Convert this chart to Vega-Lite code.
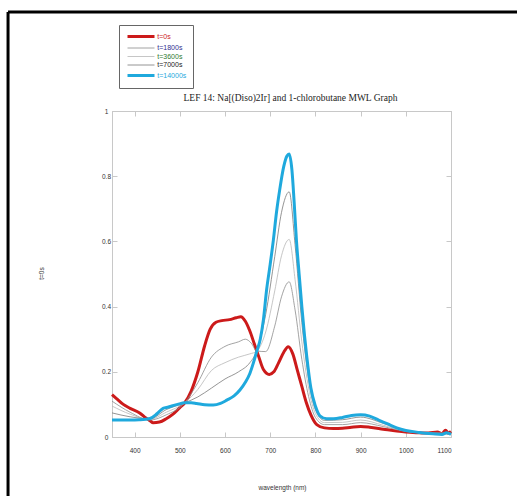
{
  "$schema": "https://vega.github.io/schema/vega-lite/v6.json",
  "autosize": {"type": "none"},
  "padding": {"left": 112, "top": 111, "right": 66, "bottom": 59},
  "width": 339,
  "height": 326,
  "background": "white",
  "title": {"text": "LEF 14: Na[(Diso)2Ir] and 1-chlorobutane MWL Graph", "font": "Liberation Serif", "fontSize": 9.5, "fontWeight": "normal", "color": "#222", "offset": 8, "dx": 9, "dy": 100.5},
  "config": {"view": {"stroke": "#c8c8c8", "strokeWidth": 1}, "axis": {"labelFont": "Liberation Sans", "titleFont": "Liberation Sans", "labelFontSize": 6.5, "titleFontSize": 6.5, "titleFontWeight": "normal", "labelColor": "#333", "titleColor": "#333", "domainColor": "#c8c8c8", "tickColor": "#c8c8c8", "grid": false}},
  "datasets": {
    "spectra": [
      {"t": "t=0s", "nm": 350, "v": 0.130}, {"t": "t=0s", "nm": 360, "v": 0.118}, {"t": "t=0s", "nm": 375, "v": 0.100}, {"t": "t=0s", "nm": 390, "v": 0.088}, {"t": "t=0s", "nm": 412, "v": 0.073}, {"t": "t=0s", "nm": 425, "v": 0.058}, {"t": "t=0s", "nm": 434, "v": 0.050}, {"t": "t=0s", "nm": 441, "v": 0.044}, {"t": "t=0s", "nm": 455, "v": 0.046}, {"t": "t=0s", "nm": 470, "v": 0.056}, {"t": "t=0s", "nm": 485, "v": 0.070}, {"t": "t=0s", "nm": 500, "v": 0.090}, {"t": "t=0s", "nm": 511, "v": 0.105}, {"t": "t=0s", "nm": 525, "v": 0.140}, {"t": "t=0s", "nm": 540, "v": 0.200}, {"t": "t=0s", "nm": 555, "v": 0.280}, {"t": "t=0s", "nm": 567, "v": 0.330}, {"t": "t=0s", "nm": 580, "v": 0.352}, {"t": "t=0s", "nm": 593, "v": 0.357}, {"t": "t=0s", "nm": 610, "v": 0.360}, {"t": "t=0s", "nm": 625, "v": 0.366}, {"t": "t=0s", "nm": 635, "v": 0.369}, {"t": "t=0s", "nm": 645, "v": 0.355}, {"t": "t=0s", "nm": 655, "v": 0.325}, {"t": "t=0s", "nm": 665, "v": 0.285}, {"t": "t=0s", "nm": 675, "v": 0.245}, {"t": "t=0s", "nm": 685, "v": 0.207}, {"t": "t=0s", "nm": 698, "v": 0.192}, {"t": "t=0s", "nm": 708, "v": 0.200}, {"t": "t=0s", "nm": 718, "v": 0.226}, {"t": "t=0s", "nm": 730, "v": 0.260}, {"t": "t=0s", "nm": 740, "v": 0.277}, {"t": "t=0s", "nm": 750, "v": 0.255}, {"t": "t=0s", "nm": 760, "v": 0.205}, {"t": "t=0s", "nm": 770, "v": 0.155}, {"t": "t=0s", "nm": 780, "v": 0.105}, {"t": "t=0s", "nm": 790, "v": 0.068}, {"t": "t=0s", "nm": 803, "v": 0.038}, {"t": "t=0s", "nm": 820, "v": 0.028}, {"t": "t=0s", "nm": 840, "v": 0.026}, {"t": "t=0s", "nm": 860, "v": 0.027}, {"t": "t=0s", "nm": 880, "v": 0.030}, {"t": "t=0s", "nm": 900, "v": 0.032}, {"t": "t=0s", "nm": 920, "v": 0.030}, {"t": "t=0s", "nm": 950, "v": 0.024}, {"t": "t=0s", "nm": 980, "v": 0.018}, {"t": "t=0s", "nm": 1000, "v": 0.015}, {"t": "t=0s", "nm": 1030, "v": 0.013}, {"t": "t=0s", "nm": 1050, "v": 0.012}, {"t": "t=0s", "nm": 1070, "v": 0.015}, {"t": "t=0s", "nm": 1080, "v": 0.010}, {"t": "t=0s", "nm": 1088, "v": 0.021}, {"t": "t=0s", "nm": 1094, "v": 0.012}, {"t": "t=0s", "nm": 1100, "v": 0.017},

      {"t": "t=1800s", "nm": 350, "v": 0.110}, {"t": "t=1800s", "nm": 390, "v": 0.076}, {"t": "t=1800s", "nm": 434, "v": 0.052}, {"t": "t=1800s", "nm": 470, "v": 0.068}, {"t": "t=1800s", "nm": 511, "v": 0.105}, {"t": "t=1800s", "nm": 540, "v": 0.167}, {"t": "t=1800s", "nm": 570, "v": 0.245}, {"t": "t=1800s", "nm": 600, "v": 0.278}, {"t": "t=1800s", "nm": 630, "v": 0.292}, {"t": "t=1800s", "nm": 645, "v": 0.300}, {"t": "t=1800s", "nm": 658, "v": 0.288}, {"t": "t=1800s", "nm": 670, "v": 0.264}, {"t": "t=1800s", "nm": 690, "v": 0.262}, {"t": "t=1800s", "nm": 710, "v": 0.340}, {"t": "t=1800s", "nm": 725, "v": 0.430}, {"t": "t=1800s", "nm": 742, "v": 0.476}, {"t": "t=1800s", "nm": 755, "v": 0.390}, {"t": "t=1800s", "nm": 770, "v": 0.238}, {"t": "t=1800s", "nm": 785, "v": 0.124}, {"t": "t=1800s", "nm": 800, "v": 0.060}, {"t": "t=1800s", "nm": 820, "v": 0.038}, {"t": "t=1800s", "nm": 860, "v": 0.038}, {"t": "t=1800s", "nm": 900, "v": 0.044}, {"t": "t=1800s", "nm": 950, "v": 0.032}, {"t": "t=1800s", "nm": 1000, "v": 0.017}, {"t": "t=1800s", "nm": 1050, "v": 0.012}, {"t": "t=1800s", "nm": 1100, "v": 0.012},

      {"t": "t=3600s", "nm": 350, "v": 0.095}, {"t": "t=3600s", "nm": 390, "v": 0.070}, {"t": "t=3600s", "nm": 434, "v": 0.054}, {"t": "t=3600s", "nm": 470, "v": 0.076}, {"t": "t=3600s", "nm": 511, "v": 0.105}, {"t": "t=3600s", "nm": 540, "v": 0.146}, {"t": "t=3600s", "nm": 570, "v": 0.204}, {"t": "t=3600s", "nm": 600, "v": 0.228}, {"t": "t=3600s", "nm": 630, "v": 0.245}, {"t": "t=3600s", "nm": 655, "v": 0.255}, {"t": "t=3600s", "nm": 670, "v": 0.263}, {"t": "t=3600s", "nm": 690, "v": 0.322}, {"t": "t=3600s", "nm": 710, "v": 0.448}, {"t": "t=3600s", "nm": 725, "v": 0.556}, {"t": "t=3600s", "nm": 742, "v": 0.606}, {"t": "t=3600s", "nm": 755, "v": 0.483}, {"t": "t=3600s", "nm": 770, "v": 0.292}, {"t": "t=3600s", "nm": 785, "v": 0.150}, {"t": "t=3600s", "nm": 800, "v": 0.072}, {"t": "t=3600s", "nm": 820, "v": 0.044}, {"t": "t=3600s", "nm": 860, "v": 0.045}, {"t": "t=3600s", "nm": 900, "v": 0.052}, {"t": "t=3600s", "nm": 950, "v": 0.036}, {"t": "t=3600s", "nm": 1000, "v": 0.018}, {"t": "t=3600s", "nm": 1050, "v": 0.012}, {"t": "t=3600s", "nm": 1100, "v": 0.011},

      {"t": "t=7000s", "nm": 350, "v": 0.074}, {"t": "t=7000s", "nm": 390, "v": 0.062}, {"t": "t=7000s", "nm": 434, "v": 0.056}, {"t": "t=7000s", "nm": 470, "v": 0.084}, {"t": "t=7000s", "nm": 511, "v": 0.105}, {"t": "t=7000s", "nm": 540, "v": 0.123}, {"t": "t=7000s", "nm": 570, "v": 0.150}, {"t": "t=7000s", "nm": 600, "v": 0.178}, {"t": "t=7000s", "nm": 630, "v": 0.200}, {"t": "t=7000s", "nm": 655, "v": 0.228}, {"t": "t=7000s", "nm": 670, "v": 0.263}, {"t": "t=7000s", "nm": 690, "v": 0.376}, {"t": "t=7000s", "nm": 710, "v": 0.553}, {"t": "t=7000s", "nm": 725, "v": 0.689}, {"t": "t=7000s", "nm": 742, "v": 0.752}, {"t": "t=7000s", "nm": 755, "v": 0.590}, {"t": "t=7000s", "nm": 770, "v": 0.351}, {"t": "t=7000s", "nm": 785, "v": 0.177}, {"t": "t=7000s", "nm": 800, "v": 0.084}, {"t": "t=7000s", "nm": 820, "v": 0.051}, {"t": "t=7000s", "nm": 860, "v": 0.053}, {"t": "t=7000s", "nm": 900, "v": 0.061}, {"t": "t=7000s", "nm": 950, "v": 0.042}, {"t": "t=7000s", "nm": 1000, "v": 0.019}, {"t": "t=7000s", "nm": 1050, "v": 0.011}, {"t": "t=7000s", "nm": 1100, "v": 0.009},

      {"t": "t=14000s", "nm": 350, "v": 0.052}, {"t": "t=14000s", "nm": 370, "v": 0.052}, {"t": "t=14000s", "nm": 390, "v": 0.052}, {"t": "t=14000s", "nm": 410, "v": 0.053}, {"t": "t=14000s", "nm": 434, "v": 0.057}, {"t": "t=14000s", "nm": 450, "v": 0.072}, {"t": "t=14000s", "nm": 463, "v": 0.088}, {"t": "t=14000s", "nm": 475, "v": 0.092}, {"t": "t=14000s", "nm": 482, "v": 0.095}, {"t": "t=14000s", "nm": 495, "v": 0.100}, {"t": "t=14000s", "nm": 511, "v": 0.105}, {"t": "t=14000s", "nm": 525, "v": 0.105}, {"t": "t=14000s", "nm": 537, "v": 0.103}, {"t": "t=14000s", "nm": 555, "v": 0.099}, {"t": "t=14000s", "nm": 574, "v": 0.098}, {"t": "t=14000s", "nm": 590, "v": 0.103}, {"t": "t=14000s", "nm": 604, "v": 0.113}, {"t": "t=14000s", "nm": 620, "v": 0.126}, {"t": "t=14000s", "nm": 633, "v": 0.144}, {"t": "t=14000s", "nm": 645, "v": 0.168}, {"t": "t=14000s", "nm": 655, "v": 0.195}, {"t": "t=14000s", "nm": 663, "v": 0.228}, {"t": "t=14000s", "nm": 670, "v": 0.262}, {"t": "t=14000s", "nm": 678, "v": 0.300}, {"t": "t=14000s", "nm": 685, "v": 0.360}, {"t": "t=14000s", "nm": 692, "v": 0.451}, {"t": "t=14000s", "nm": 700, "v": 0.530}, {"t": "t=14000s", "nm": 707, "v": 0.604}, {"t": "t=14000s", "nm": 714, "v": 0.690}, {"t": "t=14000s", "nm": 721, "v": 0.758}, {"t": "t=14000s", "nm": 730, "v": 0.830}, {"t": "t=14000s", "nm": 737, "v": 0.862}, {"t": "t=14000s", "nm": 742, "v": 0.868}, {"t": "t=14000s", "nm": 748, "v": 0.820}, {"t": "t=14000s", "nm": 753, "v": 0.720}, {"t": "t=14000s", "nm": 758, "v": 0.604}, {"t": "t=14000s", "nm": 764, "v": 0.500}, {"t": "t=14000s", "nm": 770, "v": 0.400}, {"t": "t=14000s", "nm": 776, "v": 0.310}, {"t": "t=14000s", "nm": 781, "v": 0.246}, {"t": "t=14000s", "nm": 790, "v": 0.150}, {"t": "t=14000s", "nm": 800, "v": 0.095}, {"t": "t=14000s", "nm": 810, "v": 0.065}, {"t": "t=14000s", "nm": 825, "v": 0.056}, {"t": "t=14000s", "nm": 840, "v": 0.056}, {"t": "t=14000s", "nm": 860, "v": 0.060}, {"t": "t=14000s", "nm": 880, "v": 0.066}, {"t": "t=14000s", "nm": 900, "v": 0.068}, {"t": "t=14000s", "nm": 920, "v": 0.064}, {"t": "t=14000s", "nm": 940, "v": 0.052}, {"t": "t=14000s", "nm": 960, "v": 0.040}, {"t": "t=14000s", "nm": 980, "v": 0.028}, {"t": "t=14000s", "nm": 1000, "v": 0.020}, {"t": "t=14000s", "nm": 1030, "v": 0.014}, {"t": "t=14000s", "nm": 1060, "v": 0.010}, {"t": "t=14000s", "nm": 1080, "v": 0.008}, {"t": "t=14000s", "nm": 1090, "v": 0.013}, {"t": "t=14000s", "nm": 1100, "v": 0.008}
    ],
    "one": [{"k": 1}]
  },
  "layer": [
    {
      "data": {"name": "spectra"},
      "mark": {"type": "line", "interpolate": "monotone"},
      "encoding": {
        "x": {"field": "nm", "type": "quantitative", "scale": {"domain": [350, 1100], "nice": false, "zero": false},
              "axis": {"orient": "bottom", "title": "wavelength (nm)", "values": [400, 500, 600, 700, 800, 900, 1000, 1100], "format": "d", "tickSize": -5, "labelPadding": 15, "titleX": 170, "titleY": 47, "titleAnchor": "middle", "titleAlign": "center"}},
        "y": {"field": "v", "type": "quantitative", "scale": {"domain": [0, 1], "nice": false},
              "axis": {"orient": "left", "title": "t=0s", "values": [0, 0.2, 0.4, 0.6, 0.8, 1], "format": "~g", "tickSize": -5, "labelPadding": 11, "labelAlign": "center", "titleX": -71, "titleY": 162, "titleAngle": -90, "titleAlign": "center", "titleBaseline": "middle"}},
        "color": {"field": "t", "type": "nominal", "scale": {"domain": ["t=0s", "t=1800s", "t=3600s", "t=7000s", "t=14000s"], "range": ["#cc1a1a", "#8c8c8c", "#b8b8b8", "#7a7a7a", "#1fa9dd"]},
                  "legend": {"title": null, "orient": "none", "legendX": 7, "legendY": -86, "symbolType": "M-0.75,0H6", "symbolSize": 64, "labelFont": "Liberation Sans", "labelFontSize": 7, "labelOffset": 21.3, "strokeColor": "#666", "padding": 6, "rowPadding": 0.5, "fillColor": "white",
                             "encode": {"labels": {"update": {"fill": {"signal": "datum.label === 't=0s' ? '#cc1a1a' : datum.label === 't=1800s' ? '#2f2f8f' : datum.label === 't=3600s' ? '#2f7a2f' : datum.label === 't=7000s' ? '#222222' : '#1fa9dd'"}}}}}},
        "strokeWidth": {"field": "t", "type": "nominal", "scale": {"type": "ordinal", "domain": ["t=0s", "t=1800s", "t=3600s", "t=7000s", "t=14000s"], "range": [3, 0.8, 0.8, 0.8, 3]}, "legend": null},
        "order": {"field": "nm", "type": "quantitative"}
      }
    },
    {
      "data": {"name": "spectra"},
      "mark": {"type": "point", "opacity": 0},
      "encoding": {
        "x": {"field": "nm", "type": "quantitative", "scale": {"domain": [350, 1100], "nice": false, "zero": false},
              "axis": {"orient": "top", "title": null, "labels": false, "values": [400, 500, 600, 700, 800, 900, 1000, 1100], "tickSize": -5}},
        "y": {"field": "v", "type": "quantitative", "scale": {"domain": [0, 1], "nice": false},
              "axis": {"orient": "right", "title": null, "labels": false, "values": [0, 0.2, 0.4, 0.6, 0.8, 1], "tickSize": -5}}
      }
    },
    {
      "data": {"name": "one"},
      "mark": {"type": "rule", "clip": false, "color": "black", "strokeWidth": 3},
      "encoding": {
        "x": {"datum": 120, "type": "quantitative", "scale": {"domain": [350, 1100], "nice": false, "zero": false}, "axis": null},
        "y": {"datum": 1.304, "type": "quantitative", "scale": {"domain": [0, 1], "nice": false}, "axis": null},
        "y2": {"datum": -0.4}
      }
    },
    {
      "data": {"name": "one"},
      "mark": {"type": "rule", "clip": false, "color": "black", "strokeWidth": 3},
      "encoding": {
        "x": {"datum": 120, "type": "quantitative", "scale": {"domain": [350, 1100], "nice": false, "zero": false}, "axis": null},
        "x2": {"datum": 1300},
        "y": {"datum": 1.304, "type": "quantitative", "scale": {"domain": [0, 1], "nice": false}, "axis": null}
      }
    }
  ],
  "resolve": {"axis": {"x": "independent", "y": "independent"}}
}
